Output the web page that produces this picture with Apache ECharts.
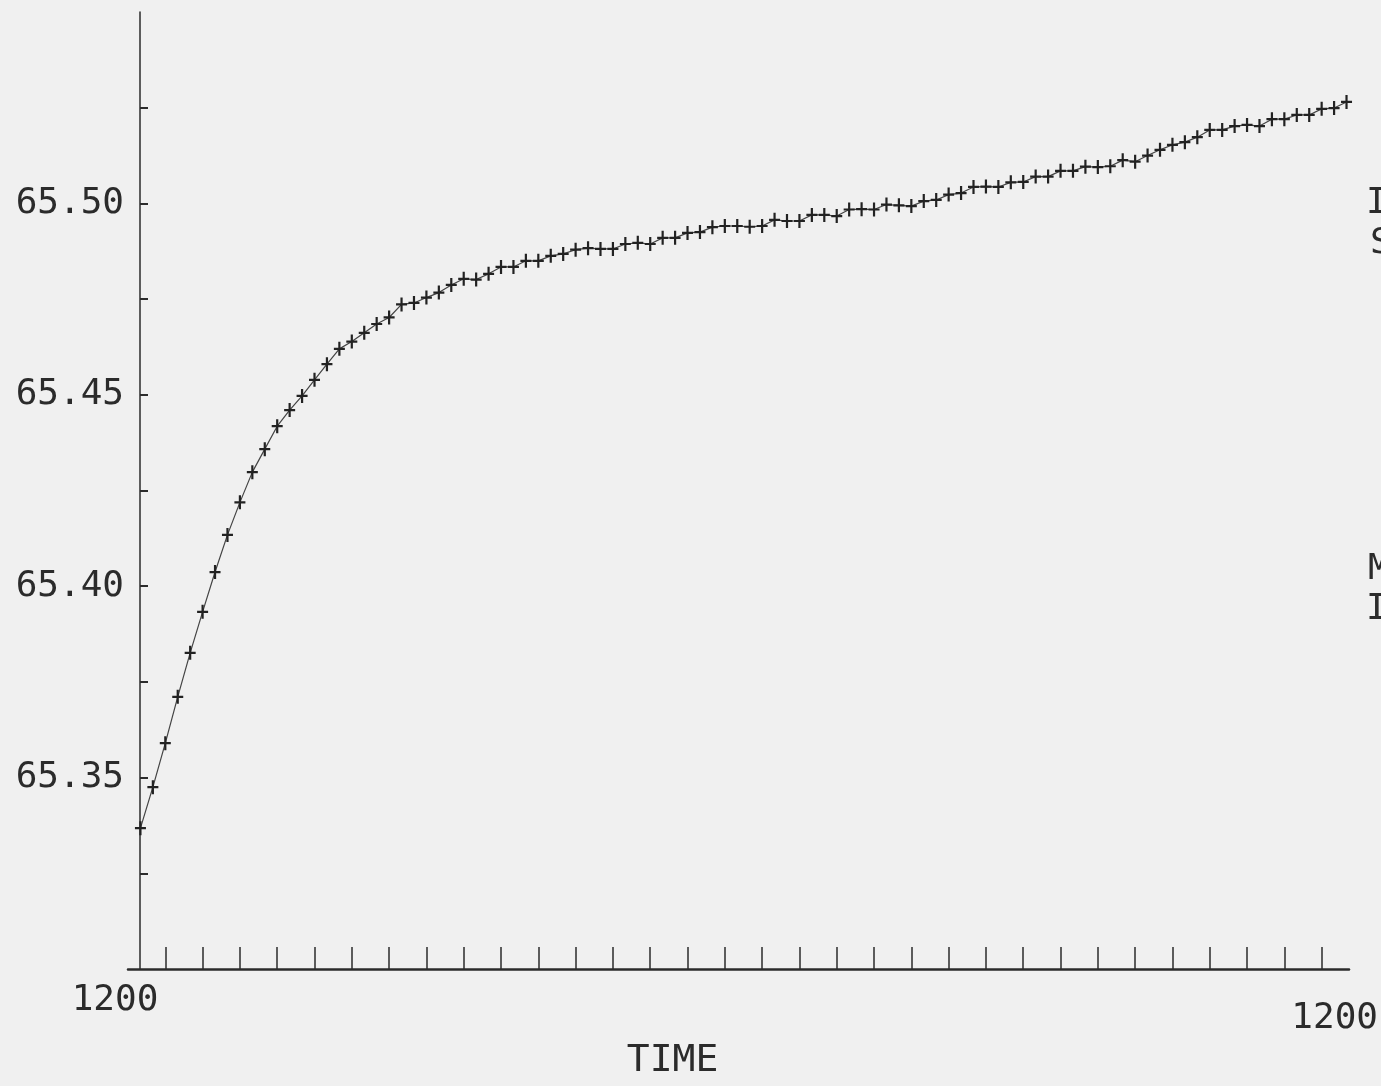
<!DOCTYPE html>
<html>
<head>
<meta charset="utf-8">
<script src="https://cdn.jsdelivr.net/npm/echarts@6/dist/echarts.min.js"></script>
<style>
html,body{margin:0;padding:0;background:#f0f0f0;}
#chart{width:1381px;height:1086px;}
</style>
</head>
<body>
<div id="chart"></div>
<script>
// sampled reading (one sample every 1/3 of an x-axis tick division)
const sampleValues = [
  65.3368, 65.3475, 65.3590, 65.3711, 65.3826, 65.3933, 65.4037, 65.4134, 65.4219, 65.4298,
  65.4358, 65.4418, 65.4460, 65.4497, 65.4539, 65.4580, 65.4620, 65.4639, 65.4662, 65.4685,
  65.4702, 65.4736, 65.4740, 65.4754, 65.4767, 65.4787, 65.4803, 65.4801, 65.4816, 65.4834,
  65.4834, 65.4850, 65.4850, 65.4863, 65.4868, 65.4879, 65.4883, 65.4881, 65.4881, 65.4894,
  65.4897, 65.4894, 65.4910, 65.4910, 65.4923, 65.4925, 65.4938, 65.4941, 65.4941, 65.4939,
  65.4941, 65.4957, 65.4954, 65.4954, 65.4970, 65.4970, 65.4967, 65.4984, 65.4985, 65.4984,
  65.4997, 65.4995, 65.4993, 65.5006, 65.5009, 65.5023, 65.5027, 65.5043, 65.5044, 65.5043,
  65.5055, 65.5056, 65.5070, 65.5070, 65.5085, 65.5085, 65.5096, 65.5095, 65.5097, 65.5113,
  65.5109, 65.5125, 65.5140, 65.5153, 65.5160, 65.5173, 65.5192, 65.5192, 65.5202, 65.5205,
  65.5202, 65.5220, 65.5220, 65.5231, 65.5231, 65.5247, 65.5249, 65.5265
];
const sampleIndex = sampleValues.map((_, i) => i + 1);

const yLabelValues = [65.35, 65.40, 65.45, 65.50];
const yTickValues = [65.325, 65.35, 65.375, 65.40, 65.425, 65.45, 65.475, 65.50, 65.525];

const xLabelValues = [0, 96];
const xTickLabels = ['1200', '1200'];
const xTickValues = [3, 6, 9, 12, 15, 18, 21, 24, 27, 30, 33, 36, 39, 42, 45, 48,
  51, 54, 57, 60, 63, 66, 69, 72, 75, 78, 81, 84, 87, 90, 93, 96];

const xAxisName = 'TIME';
const sideTexts = [
  { text: 'I', top: 186, left: 1366 }, { text: 'S', top: 226, left: 1370 },
  { text: 'M', top: 552, left: 1368 }, { text: 'I', top: 592, left: 1366 }
];

const ink = '#2b2b2b';
const font = '"DejaVu Sans Mono", "Liberation Mono", monospace';

const chart = echarts.init(document.getElementById('chart'));
chart.setOption({
  backgroundColor: '#f0f0f0',
  animation: false,
  grid: { left: 128, right: 28, top: 12, bottom: 117, containLabel: false },
  xAxis: {
    type: 'value',
    min: 0,
    max: 98.2,
    name: xAxisName,
    nameLocation: 'middle',
    nameGap: 72,
    nameTextStyle: { color: ink, fontFamily: font, fontSize: 38, padding: [0, 132, 0, 0] },
    axisLine: { show: true, lineStyle: { color: ink, width: 2.5 } },
    axisTick: { show: true, inside: true, length: 22, customValues: xTickValues, lineStyle: { color: ink, width: 1.5 } },
    axisLabel: {
      show: true,
      customValues: xLabelValues,
      margin: 14,
      color: ink,
      fontFamily: font,
      fontSize: 36,
      formatter: function (v) {
        const i = xLabelValues.indexOf(v);
        const t = i >= 0 ? xTickLabels[i] : '';
        return i === 0 ? '{l|' + t + '}' : '{r|' + t + '}';
      },
      rich: {
        l: { color: ink, fontFamily: font, fontSize: 36, padding: [0, 26, 0, 0] },
        r: { color: ink, fontFamily: font, fontSize: 36, padding: [18, 0, 0, 26] }
      }
    },
    splitLine: { show: false }
  },
  yAxis: {
    type: 'value',
    min: 65.30,
    max: 65.55,
    offset: -12,
    axisLine: { show: true, lineStyle: { color: ink, width: 1.5 } },
    axisTick: { show: true, inside: true, length: 8, customValues: yTickValues, lineStyle: { color: ink, width: 2 } },
    axisLabel: {
      show: true,
      customValues: yLabelValues,
      margin: 16,
      color: ink,
      fontFamily: font,
      fontSize: 36,
      formatter: function (v) { return v.toFixed(2); }
    },
    splitLine: { show: false }
  },
  series: [{
    type: 'line',
    data: sampleIndex.map((x, i) => [x, sampleValues[i]]),
    clip: false,
    symbol: 'path://M0,5.9H11V8.1H0Z M4.4,0H6.6V14H4.4Z',
    symbolSize: [11, 14],
    showSymbol: true,
    itemStyle: { color: '#222' },
    lineStyle: { color: '#444', width: 1.2 },
    emphasis: { disabled: true }
  }],
  graphic: sideTexts.map(s => ({
    type: 'text',
    left: s.left,
    top: s.top,
    silent: true,
    style: { text: s.text, fill: ink, font: '36px ' + font }
  }))
});
</script>
</body>
</html>
